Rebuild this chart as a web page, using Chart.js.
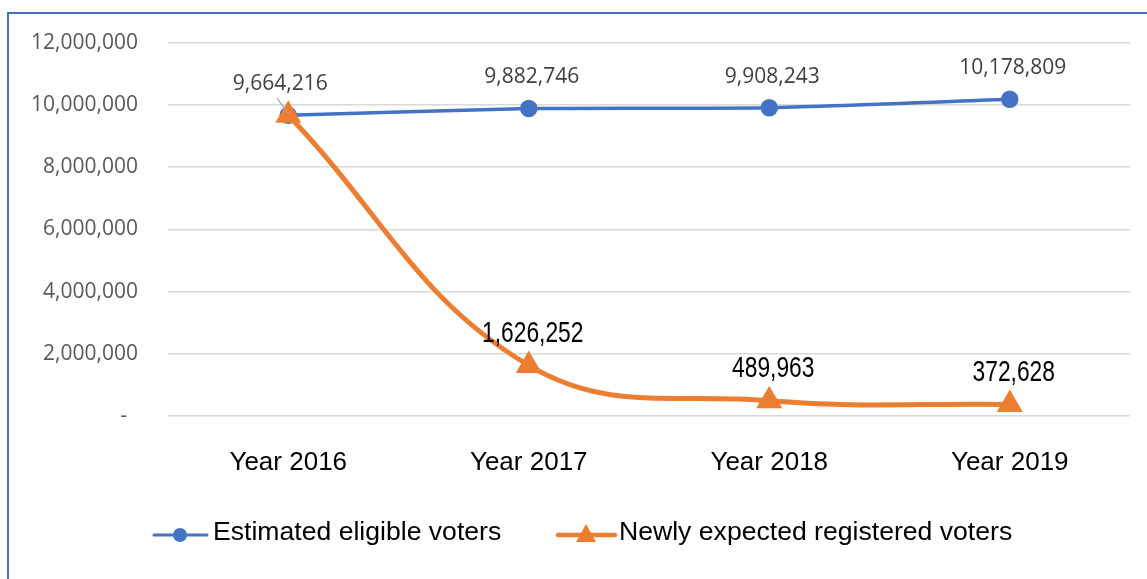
<!DOCTYPE html>
<html><head><meta charset="utf-8">
<script src="https://cdn.jsdelivr.net/npm/chart.js@4.4.0/dist/chart.umd.min.js"></script>
<style>html,body{margin:0;padding:0;background:#fff;overflow:hidden}#wrap{position:relative;width:1147px;height:579px}</style>
</head><body><div id="wrap"><canvas id="c" width="1147" height="579"></canvas></div>
<script>
const categories = ['Year 2016', 'Year 2017', 'Year 2018', 'Year 2019'];
const eligibleVoters = [9664216, 9882746, 9908243, 10178809];
const newVoters = [9664216, 1626252, 489963, 372628];
const seriesNames = ['Estimated eligible voters', 'Newly expected registered voters'];
const yMin = 0, yMax = 12000000, yStep = 2000000;

const BLUE = '#4472C4', ORANGE = '#ED7D31';
const fmt = v => v.toLocaleString('en-US');

const extras = {
  id: 'extras',
  beforeDraw(chart) {
    const ctx = chart.ctx;
    ctx.save();
    ctx.strokeStyle = BLUE; ctx.lineWidth = 2;
    ctx.strokeRect(8, 13, 1300, 800);
    ctx.restore();
  },
  afterDatasetsDraw(chart) {
    const ctx = chart.ctx;
    ctx.save();
    const m0 = chart.getDatasetMeta(0), m1 = chart.getDatasetMeta(1);
    ctx.textAlign = 'center'; ctx.textBaseline = 'middle';
    m0.data.forEach((pt, i) => {
      ctx.font = '21px "Open Sans"'; ctx.fillStyle = '#404040';
      const dx = i === 0 ? -8 : 3;
      ctx.fillText(fmt(chart.data.datasets[0].data[i]), pt.x + dx, pt.y - 31);
      if (i === 0) {
        ctx.strokeStyle = '#a6a6a6'; ctx.lineWidth = 1.2;
        ctx.beginPath(); ctx.moveTo(pt.x - 11, pt.y - 17); ctx.lineTo(pt.x, pt.y - 2); ctx.stroke();
      }
    });
    m1.data.forEach((pt, i) => {
      if (chart.data.datasets[1].data[i] === chart.data.datasets[0].data[i]) return;
      ctx.save();
      ctx.translate(pt.x + 4, pt.y - 32);
      ctx.scale(0.76, 1);
      ctx.font = '30px "Liberation Sans"'; ctx.fillStyle = '#000';
      ctx.fillText(fmt(chart.data.datasets[1].data[i]), 0, 0);
      ctx.restore();
    });
    ctx.restore();
  },
  afterDraw(chart) {
    const ctx = chart.ctx;
    ctx.save();
    const ly = 535;
    ctx.strokeStyle = BLUE; ctx.lineWidth = 3; ctx.lineCap = 'round';
    ctx.beginPath(); ctx.moveTo(154, ly); ctx.lineTo(207, ly); ctx.stroke();
    ctx.fillStyle = BLUE; ctx.beginPath(); ctx.arc(180, ly, 7, 0, Math.PI * 2); ctx.fill();
    ctx.strokeStyle = ORANGE; ctx.lineWidth = 4.5;
    ctx.beginPath(); ctx.moveTo(558, ly); ctx.lineTo(615, ly); ctx.stroke();
    ctx.fillStyle = ORANGE; ctx.beginPath();
    ctx.moveTo(586, ly - 11); ctx.lineTo(596, ly + 7); ctx.lineTo(576, ly + 7); ctx.closePath(); ctx.fill();
    ctx.fillStyle = '#000'; ctx.font = '26.6px "Liberation Sans"';
    ctx.textAlign = 'left'; ctx.textBaseline = 'alphabetic';
    ctx.fillText(chart.data.datasets[0].label, 213, 540);
    ctx.fillText(chart.data.datasets[1].label, 619, 540);
    ctx.restore();
  }
};

new Chart(document.getElementById('c'), {
  type: 'line',
  data: {
    labels: categories,
    datasets: [
      { label: seriesNames[0], data: eligibleVoters, borderColor: BLUE, backgroundColor: BLUE,
        borderWidth: 3.5, pointRadius: 7, pointHoverRadius: 7, pointStyle: 'circle', tension: 0.2, order: 1 },
      { label: seriesNames[1], data: newVoters, borderColor: ORANGE, backgroundColor: ORANGE,
        borderWidth: 5, pointRadius: 10, pointHoverRadius: 10, pointStyle: 'triangle', tension: 0.4, order: 0 }
    ]
  },
  options: {
    responsive: false, animation: false, devicePixelRatio: 1,
    layout: { padding: { left: 0, right: 17, top: 42, bottom: 0 } },
    plugins: { legend: { display: false }, tooltip: { enabled: false } },
    scales: {
      x: {
        offset: true,
        grid: { display: false, drawTicks: false },
        border: { display: false },
        ticks: { color: '#000', font: { family: 'Liberation Sans', size: 26 }, padding: 31, maxRotation: 0 },
        afterFit(s) { s.height = 163; }
      },
      y: {
        min: yMin, max: yMax,
        grid: { color: '#d9d9d9', lineWidth: 1.5, drawTicks: false },
        border: { display: false },
        ticks: { stepSize: yStep, color: '#595959', font: { family: 'Open Sans', size: 21 }, padding: 30,
          callback: v => v === 0 ? '-  ' : fmt(v) },
        afterFit(s) { s.width = 168; }
      }
    }
  },
  plugins: [extras]
});
</script></body></html>
